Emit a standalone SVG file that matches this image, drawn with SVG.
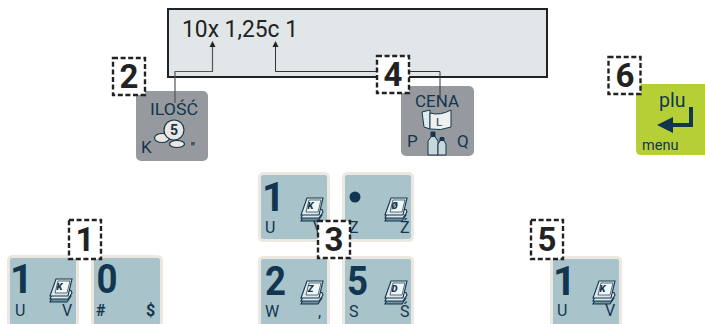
<svg xmlns="http://www.w3.org/2000/svg" width="705" height="324" viewBox="0 0 705 324">
<style>
text{font-family:"Roboto","Liberation Sans",sans-serif;fill:#12364f}
.key{fill:#a9c3cb;stroke:#ece7e0;stroke-width:3}
.big{font-size:40px;font-weight:700}
.sm{font-size:16px;font-weight:400}
.tag{fill:#fff;stroke:#222;stroke-width:2.4;stroke-dasharray:5 2.6}
.tagt{font-size:33px;font-weight:700;fill:#222;text-anchor:middle}
.line{fill:none;stroke:#333;stroke-width:1}
.bk{font-size:9.5px;font-weight:900;font-style:italic;text-anchor:middle}
.page{stroke:#12364f;stroke-width:1.1}
.lab{font-size:17px;font-weight:400}
</style>
<defs>
<g id="book">
<path class="page" style="fill:#6f8f9c" d="M5 16H21L22 18L18 24H1Z"/>
<path class="page" style="fill:#dfe8ea" d="M5 12.500H22L23 15L19 21H1Z"/>
<path class="page" style="fill:#dfe8ea" d="M7 1H23L19 18H1Z"/>
<path d="M9 3H21L18 15H6Z" fill="#f4f6f4" stroke="#12364f" stroke-width=".7"/>
</g>
</defs>

<g id="display">
<rect x="168" y="9" width="379" height="68" fill="#e1e6e9" stroke="#222" stroke-width="2"/>
<text x="182" y="36.500" font-size="24" textLength="116" lengthAdjust="spacingAndGlyphs" style="fill:#222">10x 1,25c 1</text>
</g>

<g id="key-ilosc">
<rect x="136" y="91" width="72" height="70" rx="5" fill="#96999d"/>
<text class="lab" x="150" y="115" textLength="48" lengthAdjust="spacingAndGlyphs">ILOŚĆ</text>
<ellipse cx="162" cy="138" rx="7.500" ry="4.500" fill="#ece7e0" stroke="#12364f" stroke-width="1.200"/>
<ellipse cx="177" cy="144" rx="7.500" ry="3.500" fill="#ece7e0" stroke="#12364f" stroke-width="1.200"/>
<circle cx="174" cy="130" r="10" fill="#ece7e0" stroke="#12364f" stroke-width="1.200"/>
<text x="174" y="135" font-size="14" font-weight="700" text-anchor="middle">5</text>
<text class="lab" x="141" y="153">K</text>
<text x="193" y="152" font-size="12" font-weight="700" text-anchor="middle">"</text>
</g>

<g id="key-cena">
<rect x="401" y="86" width="73" height="70" rx="5" fill="#96999d"/>
<text class="lab" x="415" y="107" textLength="44" lengthAdjust="spacingAndGlyphs">CENA</text>
<path d="M422 112L430 110V129L424 127Z" fill="#dfe8ea" stroke="#12364f" stroke-width="1"/>
<path d="M430 113Q440 116 451 110V127Q441 131 430 129Z" fill="#eef1ef" stroke="#12364f" stroke-width="1"/>
<text x="439" y="126" font-size="11.500" font-weight="500" text-anchor="middle" style="fill:#3d6075">L</text>
<path d="M431 132H435V137L438 141V155H428V141L431 137Z" fill="#c9d7db" stroke="#12364f" stroke-width="1"/>
<path d="M440 138H444V141L446 144V155H438V144L440 141Z" fill="#c9d7db" stroke="#12364f" stroke-width="1"/>
<rect x="431" y="132" width="4" height="5" fill="#12364f"/>
<rect x="440" y="137" width="4" height="4" fill="#12364f"/>
<text class="lab" x="407" y="147">P</text>
<text class="lab" x="457" y="147">Q</text>
</g>

<g id="key-plu">
<path d="M705 84H641Q636 84 636 89V150Q636 155 641 155H705Z" fill="#b7cf37"/>
<text x="659" y="107" font-size="19.500">plu</text>
<path d="M691 107V125H670" fill="none" stroke="#12364f" stroke-width="4"/>
<path d="M657 125L673 117V133Z" fill="#12364f"/>
<text x="642" y="150" font-size="14.500">menu</text>
</g>

<g id="key-1a">
<rect class="key" x="8.500" y="256.500" width="69" height="70" rx="4"/>
<text class="big" x="10" y="293">1</text>
<use href="#book" x="49" y="278"/><text class="bk" x="59.500" y="289.500">K</text>
<text class="sm" x="15" y="316">U</text><text class="sm" x="62" y="316">V</text>
</g>
<g id="key-0">
<rect class="key" x="92.500" y="256.500" width="69" height="70" rx="4"/>
<text class="big" x="96.500" y="293" textLength="21" lengthAdjust="spacingAndGlyphs">0</text>
<text class="sm" x="96" y="316" style="font-weight:700">#</text><text class="sm" x="146" y="316" style="font-weight:700">$</text>
</g>

<g id="key-1b">
<rect class="key" x="259.500" y="173.500" width="69" height="67" rx="4"/>
<text class="big" x="262" y="211">1</text>
<use href="#book" x="300" y="197"/><text class="bk" x="310.500" y="208.500">K</text>
<text class="sm" x="265" y="233">U</text><text class="sm" x="313" y="233">V</text>
</g>
<g id="key-dot">
<rect class="key" x="343.500" y="173.500" width="69" height="67" rx="4"/>
<circle cx="355" cy="197" r="5.500" fill="#12364f"/>
<use href="#book" x="384" y="197"/><text class="bk" x="394.500" y="208.500">Ø</text>
<text class="sm" x="349" y="233">Z</text><text class="sm" x="400" y="233">Ź</text>
</g>
<g id="key-2">
<rect class="key" x="259.500" y="257.500" width="69" height="69" rx="4"/>
<text class="big" x="265" y="295" textLength="21" lengthAdjust="spacingAndGlyphs">2</text>
<use href="#book" x="300" y="280"/><text class="bk" x="310.500" y="291.500">Z</text>
<text class="sm" x="265" y="317">W</text><text class="sm" x="318" y="317">,</text>
</g>
<g id="key-5">
<rect class="key" x="343.500" y="257.500" width="69" height="69" rx="4"/>
<text class="big" x="347" y="295" textLength="21" lengthAdjust="spacingAndGlyphs">5</text>
<use href="#book" x="384" y="280"/><text class="bk" x="394.500" y="291.500">D</text>
<text class="sm" x="349" y="317">S</text><text class="sm" x="400" y="317">Ś</text>
</g>
<g id="key-1c">
<rect class="key" x="551.500" y="257.500" width="69" height="69" rx="4"/>
<text class="big" x="553" y="295">1</text>
<use href="#book" x="592" y="280"/><text class="bk" x="602.500" y="291.500">K</text>
<text class="sm" x="557" y="316">U</text><text class="sm" x="605" y="316">V</text>
</g>

<g id="connectors">
<path class="line" style="stroke:#555;stroke-width:1.200" d="M175 103V71.500H212.500V46"/>
<path d="M212.500 41L215.500 47H209.500Z" fill="#222"/>
<path class="line" d="M440 97V71.500H275.500V46"/>
<path d="M275.500 41L278.500 47H272.500Z" fill="#222"/>
</g>

<g id="tag-1"><rect class="tag" x="69" y="220" width="32" height="39"/><text class="tagt" x="85" y="251">1</text></g>
<g id="tag-2"><rect class="tag" x="113" y="58" width="32" height="37"/><text class="tagt" x="129" y="88">2</text></g>
<g id="tag-3"><rect class="tag" x="318" y="221" width="32" height="37"/><text class="tagt" x="334" y="251">3</text></g>
<g id="tag-4"><rect class="tag" x="377" y="56" width="32" height="37"/><text class="tagt" x="393" y="86">4</text></g>
<g id="tag-5"><rect class="tag" x="531" y="220" width="32" height="39"/><text class="tagt" x="547" y="251">5</text></g>
<g id="tag-6"><rect class="tag" x="608.500" y="57" width="32" height="37"/><text class="tagt" x="625" y="87">6</text></g>
</svg>
